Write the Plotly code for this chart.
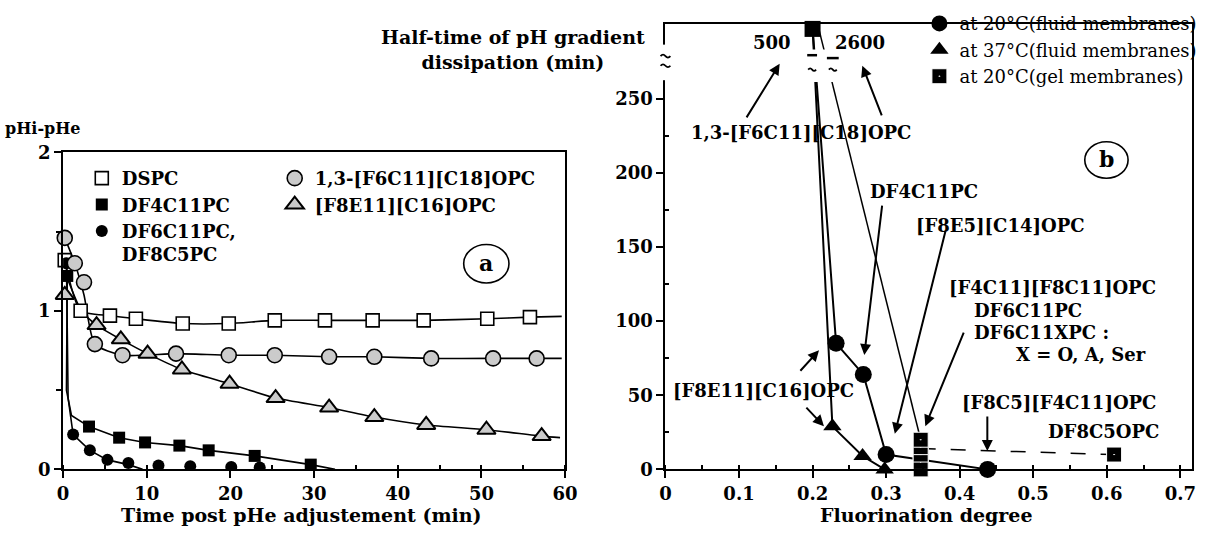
import plotly.graph_objects as go

W, H = 1209, 538
SERIF = "DejaVu Serif"

# ---------------- panel a : pHi-pHe vs time ----------------
dspc_t = [0.2, 2.1, 5.6, 8.7, 14.3, 19.8, 25.3, 31.3, 37.0, 43.1, 50.7, 55.8]
dspc_y = [1.32, 1.00, 0.97, 0.95, 0.92, 0.92, 0.94, 0.94, 0.94, 0.94, 0.95, 0.96]
dspc_curve_t = [0.2, 2.1, 5.6, 8.7, 14.3, 19.8, 25.3, 31.3, 37.0, 43.1, 50.7, 55.8, 59.6]
dspc_curve_y = [1.32, 1.00, 0.97, 0.95, 0.92, 0.92, 0.94, 0.94, 0.94, 0.94, 0.95, 0.96, 0.965]

f6c18_t = [0.2, 1.4, 2.5, 3.8, 7.1, 13.5, 19.8, 25.3, 31.8, 37.2, 44.0, 51.4, 56.6]
f6c18_y = [1.46, 1.30, 1.18, 0.79, 0.72, 0.73, 0.72, 0.72, 0.71, 0.71, 0.70, 0.70, 0.70]
f6c18_curve_t = [0.2, 1.4, 2.5, 3.8, 7.1, 13.5, 19.8, 25.3, 31.8, 37.2, 44.0, 51.4, 56.6, 59.6]
f6c18_curve_y = [1.46, 1.30, 1.10, 0.79, 0.72, 0.73, 0.72, 0.72, 0.71, 0.71, 0.70, 0.70, 0.70, 0.70]

f8e11_t = [0.2, 4.0, 6.9, 10.1, 14.2, 19.9, 25.4, 31.8, 37.2, 43.4, 50.6, 57.2]
f8e11_y = [1.10, 0.91, 0.82, 0.73, 0.63, 0.54, 0.45, 0.39, 0.33, 0.28, 0.25, 0.21]
f8e11_curve_t = [0.4, 2.2, 4.0, 6.9, 10.1, 14.2, 19.9, 25.4, 31.8, 37.2, 43.4, 50.6, 57.2, 59.4]
f8e11_curve_y = [1.22, 1.00, 0.91, 0.82, 0.73, 0.63, 0.54, 0.45, 0.39, 0.33, 0.28, 0.25, 0.21, 0.20]

df4_t = [0.5, 3.1, 6.7, 9.8, 13.9, 17.4, 22.9, 29.6]
df4_y = [1.22, 0.27, 0.20, 0.17, 0.15, 0.12, 0.085, 0.03]
df4_curve_t = [0.5, 0.4, 1.0, 3.1, 6.7, 9.8, 13.9, 17.4, 22.9, 29.6, 32.5]
df4_curve_y = [1.22, 0.50, 0.34, 0.27, 0.20, 0.17, 0.15, 0.12, 0.085, 0.03, 0.0]

df6_t = [0.4, 1.2, 3.2, 5.3, 7.8, 11.4, 15.2, 20.1, 23.5]
df6_y = [1.30, 0.22, 0.12, 0.06, 0.04, 0.025, 0.02, 0.015, 0.012]
df6_curve_t = [0.4, 0.6, 1.2, 3.2, 5.3, 7.8, 9.5]
df6_curve_y = [1.30, 0.45, 0.22, 0.12, 0.06, 0.03, 0.0]

a_xticks = [0, 10, 20, 30, 40, 50, 60]
a_yticks = [0, 1, 2]

# ---------------- panel b : half-time vs fluorination degree ----------------
fl20_x = [0.232, 0.269, 0.300, 0.438]
fl20_y = [85, 64, 10, 0]
fl37_x = [0.227, 0.268, 0.298]
fl37_y = [29, 9, 0]
gel_x = [0.347, 0.347, 0.347, 0.347, 0.347, 0.61]
gel_y = [0, 5, 10, 15, 20, 10]
gel_dash_x = [0.347, 0.61]
gel_dash_y = [14, 10]
# off-scale compound (1,3-[F6C11][C18]OPC): drawn at the axis break
offscale_x = 0.20
offscale_plot_y = 298
offscale_values = ["500", "2600"]

b_xticks = [0, 0.1, 0.2, 0.3, 0.4, 0.5, 0.6, 0.7]
b_yticks = [0, 50, 100, 150, 200, 250]


def px(x):
    return x / W


def py(y):
    return 1 - y / H


fig = go.Figure()

# ---- panel a lines
for tt, yy, shape in [
    (dspc_curve_t, dspc_curve_y, "spline"),
    (f6c18_curve_t, f6c18_curve_y, "spline"),
    (f8e11_curve_t, f8e11_curve_y, "spline"),
    (df4_curve_t, df4_curve_y, "linear"),
    (df6_curve_t, df6_curve_y, "linear"),
]:
    fig.add_trace(go.Scatter(x=tt, y=yy, mode="lines", showlegend=False,
                             line=dict(color="black", width=1.6, shape=shape, smoothing=0.6),
                             xaxis="x", yaxis="y", hoverinfo="skip"))

STIP = "#cbcbcb"
fig.add_trace(go.Scatter(x=dspc_t, y=dspc_y, mode="markers", name="DSPC", legend="legend",
                         marker=dict(symbol="square", size=13, color="white",
                                     line=dict(color="black", width=1.6)),
                         cliponaxis=False, xaxis="x", yaxis="y"))
fig.add_trace(go.Scatter(x=df4_t, y=df4_y, mode="markers", name="DF4C11PC", legend="legend",
                         marker=dict(symbol="square", size=12, color="black"),
                         cliponaxis=False, xaxis="x", yaxis="y"))
fig.add_trace(go.Scatter(x=df6_t, y=df6_y, mode="markers", name="DF6C11PC,<br>DF8C5PC", legend="legend",
                         marker=dict(symbol="circle", size=12, color="black"),
                         cliponaxis=True, xaxis="x", yaxis="y"))
fig.add_trace(go.Scatter(x=f6c18_t, y=f6c18_y, mode="markers", name="1,3-[F6C11][C18]OPC", legend="legend2",
                         marker=dict(symbol="circle", size=15, color=STIP,
                                     line=dict(color="black", width=1.6)),
                         cliponaxis=False, xaxis="x", yaxis="y"))
fig.add_trace(go.Scatter(x=f8e11_t, y=f8e11_y, mode="markers", name="[F8E11][C16]OPC", legend="legend2",
                         marker=dict(symbol="triangle-up", size=16, color=STIP,
                                     line=dict(color="black", width=2)),
                         cliponaxis=False, xaxis="x", yaxis="y"))

# ---- panel b lines
fig.add_trace(go.Scatter(x=[offscale_x] + fl20_x, y=[offscale_plot_y] + fl20_y, mode="lines",
                         showlegend=False, line=dict(color="black", width=2),
                         xaxis="x2", yaxis="y2", hoverinfo="skip", cliponaxis=False))
fig.add_trace(go.Scatter(x=[offscale_x] + fl37_x, y=[offscale_plot_y] + fl37_y, mode="lines",
                         showlegend=False, line=dict(color="black", width=2),
                         xaxis="x2", yaxis="y2", hoverinfo="skip", cliponaxis=False))
fig.add_trace(go.Scatter(x=[offscale_x + 0.008, gel_x[4]], y=[offscale_plot_y, gel_y[4]], mode="lines",
                         showlegend=False, line=dict(color="black", width=1.5),
                         xaxis="x2", yaxis="y2", hoverinfo="skip", cliponaxis=False))
fig.add_trace(go.Scatter(x=gel_dash_x, y=gel_dash_y, mode="lines",
                         showlegend=False, line=dict(color="black", width=1.5, dash="longdash"),
                         xaxis="x2", yaxis="y2", hoverinfo="skip", cliponaxis=False))

fig.add_trace(go.Scatter(x=fl20_x, y=fl20_y, mode="markers", name="at 20°C(fluid membranes)",
                         legend="legend3", marker=dict(symbol="circle", size=17, color="black"),
                         xaxis="x2", yaxis="y2", cliponaxis=False))
fig.add_trace(go.Scatter(x=fl37_x, y=fl37_y, mode="markers", name="at 37°C(fluid membranes)",
                         legend="legend3", marker=dict(symbol="triangle-up", size=16, color="black"),
                         xaxis="x2", yaxis="y2", cliponaxis=False))
fig.add_trace(go.Scatter(x=gel_x, y=gel_y, mode="markers", name="at 20°C(gel membranes)",
                         legend="legend3",
                         marker=dict(symbol="square-dot", size=15, color="black",
                                     line=dict(color="white", width=1)),
                         xaxis="x2", yaxis="y2", cliponaxis=False))
fig.add_trace(go.Scatter(x=[offscale_x], y=[offscale_plot_y - 1], mode="markers", showlegend=False,
                         marker=dict(symbol="square", size=16, color="black"),
                         xaxis="x2", yaxis="y2", cliponaxis=False, hoverinfo="skip"))

tickfont = dict(family=SERIF, size=18, color="black", weight="bold")
common = dict(showgrid=False, zeroline=False, showline=True, linecolor="black", linewidth=2,
              ticks="outside", tickcolor="black", tickwidth=2, ticklen=7, tickfont=tickfont,
              mirror=True)

fig.update_layout(
    width=W, height=H, margin=dict(l=0, r=0, t=0, b=0),
    paper_bgcolor="white", plot_bgcolor="white",
    xaxis=dict(domain=[px(58), px(568)], range=[0, 60], tickvals=a_xticks, anchor="y",
               minor=dict(dtick=5, ticks="inside", ticklen=4, tickcolor="black", tickwidth=1.5),
               **common),
    yaxis=dict(domain=[py(477), py(147)], range=[0, 2], tickvals=a_yticks, anchor="x",
               minor=dict(dtick=0.5, ticks="outside", ticklen=5, tickcolor="black", tickwidth=1.5),
               **common),
    xaxis2=dict(domain=[px(670), px(1205)], range=[0, 0.716], tickvals=b_xticks,
                ticktext=["0", "0.1", "0.2", "0.3", "0.4", "0.5", "0.6", "0.7"], anchor="y2",
                minor=dict(dtick=0.05, ticks="inside", ticklen=4, tickcolor="black", tickwidth=1.5),
                **common),
    yaxis2=dict(domain=[py(477), py(14)], range=[0, 300], tickvals=b_yticks, anchor="x2",
                minor=dict(tickvals=[25, 75, 125, 175, 225], ticks="inside", ticklen=4,
                           tickcolor="black", tickwidth=1.5),
                **common),
    legend=dict(x=px(77), y=py(155), xanchor="left", yanchor="top",
                font=dict(family=SERIF, size=18, color="black", weight="bold"),
                bgcolor="rgba(0,0,0,0)", valign="top", tracegroupgap=0),
    legend2=dict(x=px(273), y=py(155), xanchor="left", yanchor="top",
                 font=dict(family=SERIF, size=18, color="black", weight="bold"),
                 bgcolor="rgba(0,0,0,0)", valign="top", tracegroupgap=0),
    legend3=dict(x=px(928), y=py(-6), xanchor="left", yanchor="top",
                 font=dict(family=SERIF, size=18, color="black"),
                 bgcolor="rgba(0,0,0,0)", tracegroupgap=0),
)


def tilde(cx, cy, half=5, amp=3):
    return (f"M{px(cx - half)},{py(cy)} Q{px(cx - half / 2)},{py(cy - amp)} {px(cx)},{py(cy)} "
            f"Q{px(cx + half / 2)},{py(cy + amp)} {px(cx + half)},{py(cy)}")


shapes = []
# axis break on the left axis of panel b
shapes.append(dict(type="rect", xref="paper", yref="paper", x0=px(663), x1=px(678),
                   y0=py(72), y1=py(35), fillcolor="white", line=dict(width=0), layer="above"))
for cy in (47, 57):
    shapes.append(dict(type="path", xref="paper", yref="paper", path=tilde(670, cy),
                       line=dict(color="black", width=1.8), layer="above"))
# break on the off-scale lines
shapes.append(dict(type="rect", xref="paper", yref="paper", x0=px(810), x1=px(852),
                   y0=py(74), y1=py(40), fillcolor="white", line=dict(width=0), layer="above"))
for x0, x1, yy in [(814, 824, 46), (834, 846, 49)]:
    shapes.append(dict(type="line", xref="paper", yref="paper", x0=px(x0), x1=px(x1),
                       y0=py(yy), y1=py(yy), line=dict(color="black", width=2.5), layer="above"))
for cx in (819, 840):
    shapes.append(dict(type="path", xref="paper", yref="paper", path=tilde(cx, 61, half=4, amp=2.5),
                       line=dict(color="black", width=1.8), layer="above"))
# circled panel labels
for cx, cy, rx, ry in [(488, 263, 23, 20), (1118, 155, 22, 19)]:
    shapes.append(dict(type="circle", xref="paper", yref="paper", x0=px(cx - rx), x1=px(cx + rx),
                       y0=py(cy + ry), y1=py(cy - ry), line=dict(color="black", width=1.6),
                       fillcolor="white", layer="above"))
fig.update_layout(shapes=shapes)

ann = []


def text(x, y, s, size=18, family=SERIF, bold=True, xanchor="center", align="center"):
    f = dict(family=family, size=size, color="black")
    if bold:
        f["weight"] = "bold"
    ann.append(dict(x=px(x), y=py(y), xref="paper", yref="paper", text=s, showarrow=False,
                    font=f, xanchor=xanchor, yanchor="middle", align=align))


def arrow(tx, ty, hx, hy, width=2, size=1.1):
    ann.append(dict(x=px(hx), y=py(hy), xref="paper", yref="paper", ax=tx - hx, ay=ty - hy,
                    axref="pixel", ayref="pixel", text="", showarrow=True, arrowhead=2,
                    arrowsize=size, arrowwidth=width, arrowcolor="black", standoff=0,
                    startstandoff=0))


# panel a texts
text(38, 122, "pHi-pHe", size=16)
text(300, 524, "Time post pHe adjustement (min)", size=19)
text(488, 262, "a", size=22)

# panel b texts
text(515, 40, "Half-time of pH gradient<br>dissipation (min)", size=19)
text(935, 524, "Fluorination degree", size=19)
text(1118, 154, "b", size=22)
text(778, 33, offscale_values[0], size=18)
text(868, 33, offscale_values[1], size=18)
text(808, 126, "1,3-[F6C11][C18]OPC", size=18)
text(933, 188, "DF4C11PC", size=18)
text(1010, 223, "[F8E5][C14]OPC", size=18)
text(1063, 288, "[F4C11][F8C11]OPC", size=18)
text(981, 312, "DF6C11PC", size=18, xanchor="left")
text(981, 335, "DF6C11XPC :", size=18, xanchor="left")
text(1024, 357, "X = O, A, Ser", size=18, xanchor="left")
text(770, 395, "[F8E11][C16]OPC", size=18)
text(1070, 407, "[F8C5][F4C11]OPC", size=18)
text(1115, 438, "DF8C5OPC", size=18)

arrow(752, 110, 786, 55)
arrow(890, 108, 870, 57)
arrow(890, 207, 872, 358)
arrow(954, 236, 903, 440)
arrow(973, 337, 934, 432)
arrow(806, 375, 826, 353)
arrow(812, 412, 831, 432)
arrow(997, 422, 997, 458)

fig.update_layout(annotations=ann)

fig.write_html("out.html")
